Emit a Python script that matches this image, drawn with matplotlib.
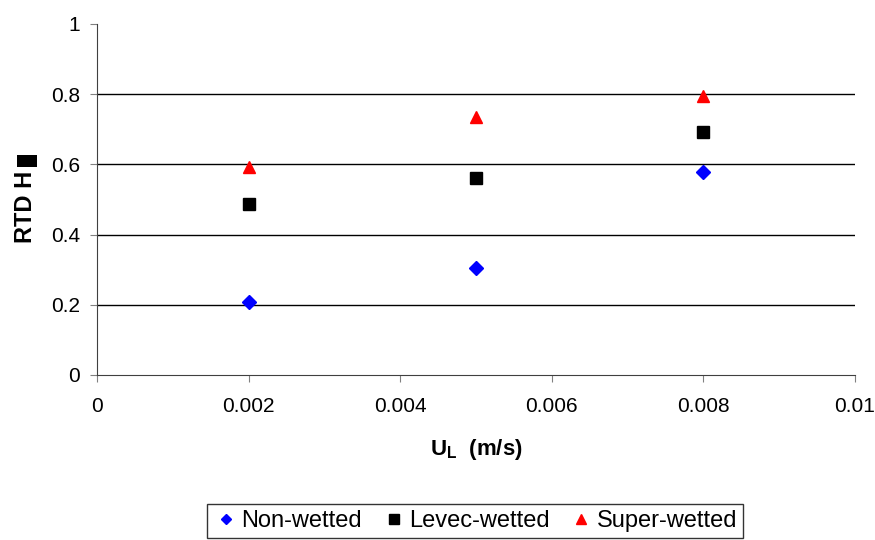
import matplotlib.pyplot as plt
from matplotlib.patches import Rectangle

plt.rcParams['font.family'] = ['Liberation Sans', 'DejaVu Sans']

# liquid velocity (m/s) and RTD hold-up values
u_l = [0.002, 0.005, 0.008]
non_wetted = [0.207, 0.305, 0.578]
levec_wetted = [0.487, 0.561, 0.692]
super_wetted = [0.593, 0.735, 0.795]

fig = plt.figure(figsize=(8.75, 5.4), dpi=100)
ax = fig.add_axes([0.1109, 0.3056, 0.8661, 0.65])

ax.plot(u_l, non_wetted, linestyle='none', marker='D', color='#0000ff',
        markersize=7, label='Non-wetted', clip_on=False, zorder=3)
ax.plot(u_l, levec_wetted, linestyle='none', marker='s', color='black',
        markersize=9, label='Levec-wetted', clip_on=False, zorder=3)
ax.plot(u_l, super_wetted, linestyle='none', marker='^', color='#ff0000',
        markersize=9, label='Super-wetted', clip_on=False, zorder=3)

ax.set_xlim(0, 0.01)
ax.set_ylim(0, 1)
ax.set_xticks([0, 0.002, 0.004, 0.006, 0.008, 0.01])
ax.set_xticklabels(['0', '0.002', '0.004', '0.006', '0.008', '0.01'])
ax.set_yticks([0, 0.2, 0.4, 0.6, 0.8, 1])
ax.set_yticklabels(['0', '0.2', '0.4', '0.6', '0.8', '1'])

for yv in [0.2, 0.4, 0.6, 0.8]:
    ax.axhline(yv, color='black', linewidth=1, zorder=1)

ax.spines['top'].set_visible(False)
ax.spines['right'].set_visible(False)
ax.spines['left'].set_color('#404040')
ax.spines['bottom'].set_color('#404040')
ax.tick_params(direction='out', length=5, labelsize=15, color='#808080')
ax.tick_params(axis='x', pad=11)
ax.tick_params(axis='y', pad=7)

ax.set_xlabel('U$_\\mathregular{L}$  (m/s)', fontsize=16, fontweight='bold', labelpad=15)
ax.set_ylabel('RTD H', fontsize=17, fontweight='bold')
ax.yaxis.set_label_coords(37 / 875, 1 - 207 / 540, transform=fig.transFigure)
# stray black box sitting over the end of the y label in the original
fig.patches.append(Rectangle((17 / 875, 1 - 167 / 540), 20 / 875, 12 / 540,
                             transform=fig.transFigure, facecolor='black',
                             edgecolor='none'))

leg = fig.legend(loc='center', bbox_to_anchor=(475 / 875, 1 - 521 / 540), ncol=3,
                 fontsize=17, frameon=True, fancybox=False, edgecolor='black',
                 handletextpad=0.1, columnspacing=0.8, borderpad=0.25,
                 handlelength=1.1, markerscale=0.8)
leg.get_frame().set_linewidth(1)

fig.savefig('out.png', dpi=100)
